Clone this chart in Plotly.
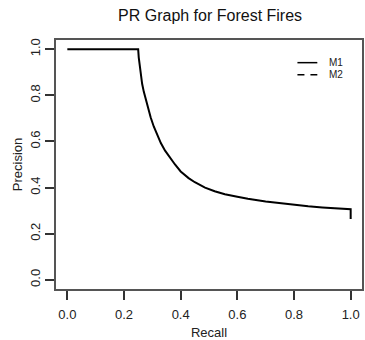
import plotly.graph_objects as go

title_text = "PR Graph for Forest Fires"
x_label = "Recall"
y_label = "Precision"
series_names = ["M1", "M2"]
series_dash = ["solid", "dash"]

m1_recall = [0.0, 0.25, 0.252, 0.255, 0.259, 0.264, 0.27, 0.277, 0.285, 0.294, 0.305, 0.317,
             0.33, 0.345, 0.36, 0.38, 0.40, 0.428, 0.45, 0.486, 0.52, 0.556, 0.60, 0.637,
             0.70, 0.75, 0.80, 0.85, 0.90, 0.95, 1.0, 1.0]
m1_precision = [1.0, 1.0, 0.965, 0.93, 0.89, 0.85, 0.815, 0.78, 0.748, 0.705, 0.665, 0.628,
                0.593, 0.560, 0.533, 0.500, 0.470, 0.441, 0.423, 0.400, 0.384, 0.371, 0.360, 0.351,
                0.340, 0.332, 0.325, 0.319, 0.314, 0.310, 0.306, 0.264]

m2_recall = [None]
m2_precision = [None]

tick_vals = [0.0, 0.2, 0.4, 0.6, 0.8, 1.0]
tick_text = ["0.0", "0.2", "0.4", "0.6", "0.8", "1.0"]

FONT = "Liberation Sans, Arial, Helvetica, sans-serif"

fig = go.Figure()
fig.add_trace(go.Scatter(x=m1_recall, y=m1_precision, mode="lines", name=series_names[0],
                         showlegend=False,
                         line=dict(color="black", width=2, dash=series_dash[0])))
fig.add_trace(go.Scatter(x=m2_recall, y=m2_precision, mode="lines", name=series_names[1],
                         showlegend=False,
                         line=dict(color="black", width=1.5, dash=series_dash[1])))

# legend key drawn in the top-right corner (no box), like R's legend(bty="n")
leg_x0, leg_x1, leg_tx = 0.789, 0.854, 0.886
leg_rows = [0.909, 0.860]
for name, dash, ly in zip(series_names, series_dash, leg_rows):
    fig.add_shape(type="line", xref="paper", yref="paper", x0=leg_x0, x1=leg_x1, y0=ly, y1=ly,
                  line=dict(color="black", width=1.5, dash="solid" if dash == "solid" else "7px,6px"))
    fig.add_annotation(xref="paper", yref="paper", x=leg_tx, y=ly, text=name, showarrow=False,
                       xanchor="left", yanchor="middle",
                       font=dict(family=FONT, size=10, color="#222222"))

axis_common = dict(
    range=[-0.04, 1.04], tickvals=tick_vals, ticktext=tick_text,
    showgrid=False, zeroline=False, showline=True, mirror=True,
    linecolor="#555555", linewidth=1.5,
    ticks="outside", ticklen=9, tickwidth=1.5, tickcolor="#333333",
    tickfont=dict(family=FONT, size=13, color="#222222"),
)

fig.update_layout(
    width=365, height=340,
    margin=dict(l=56, r=1, t=40, b=47),
    paper_bgcolor="white", plot_bgcolor="white",
    title=dict(text=title_text, x=0.5755, xanchor="center", y=0.955, yanchor="middle",
               font=dict(family=FONT, size=16, color="#111111")),
    xaxis=dict(**axis_common, ticklabelstandoff=4,
               title=dict(text=x_label, standoff=8, font=dict(family=FONT, size=13, color="#222222"))),
    yaxis=dict(**axis_common, tickangle=-90,
               title=dict(text=y_label, standoff=2, font=dict(family=FONT, size=13, color="#222222"))),
    showlegend=False,
)

fig.write_html("out.html", config={"displayModeBar": False},
               post_script="document.body.style.margin='0px';document.body.style.overflow='hidden';")
